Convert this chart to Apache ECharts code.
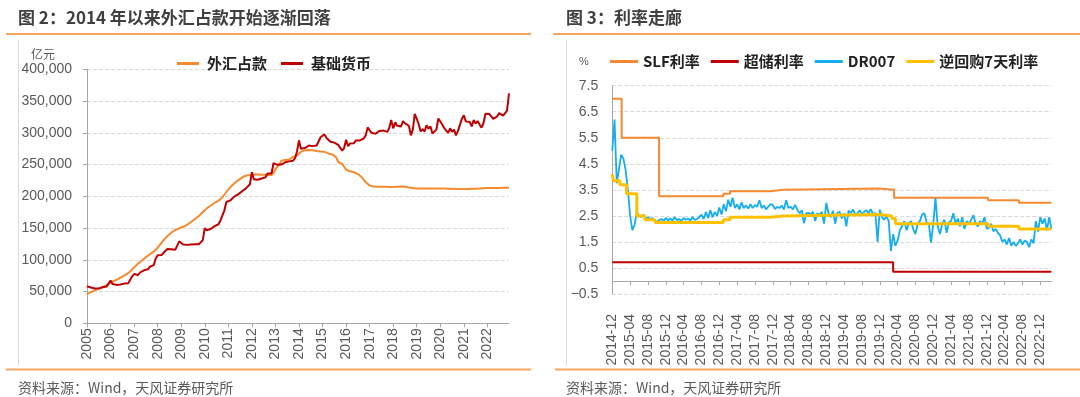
<!DOCTYPE html>
<html>
<head>
<meta charset="utf-8">
<script src="https://cdn.jsdelivr.net/npm/echarts@6/dist/echarts.min.js"></script>
<style>
html, body { margin: 0; padding: 0; background: #fff; }
#chart { width: 1080px; height: 397px; }
</style>
</head>
<body>
<div id="chart"></div>
<script>
// ---------- 图2：月度，亿元 ----------
var years = [2005, 2006, 2007, 2008, 2009, 2010, 2011, 2012, 2013, 2014, 2015, 2016, 2017, 2018, 2019, 2020, 2021, 2022];

var fxReserve = [ // 外汇占款
  46000, 47500, 49000, 50500, 51800, 53000, 54300, 55600, 57000, 58500, 60200, 62100,
  64000, 65500, 67000, 68500, 70000, 71800, 73500, 75200, 77000, 79000, 81500, 84400,
  88000, 91000, 94000, 96500, 99000, 101500, 104000, 106500, 108500, 110500, 112800, 115200,
  119000, 123000, 126500, 131000, 134000, 137500, 140500, 143000, 145500, 147000, 148500, 149600,
  151000, 152000, 153000, 155000, 157500, 159500, 161500, 164000, 166500, 169000, 172000, 175200,
  178000, 181000, 183000, 185500, 187000, 189500, 191000, 193000, 195500, 198500, 202500, 206800,
  211000, 214000, 217500, 220500, 223000, 225500, 227500, 229500, 231500, 232700, 233000, 232400,
  233500, 234500, 234800, 234500, 234000, 234000, 233800, 233600, 233400, 233700, 233500, 236700,
  243000, 246000, 250000, 256000, 257500, 257000, 257000, 258000, 259000, 262000, 265000, 264300,
  267000, 270000, 271500, 272500, 273000, 272800, 272600, 272400, 272000, 271500, 271400, 270700,
  270300, 270000, 268500, 267500, 266800, 266000, 264000, 261000, 254000, 253000, 251000, 248500,
  242000, 240000, 239500, 239000, 238000, 237000, 235000, 233000, 230000, 227000, 222000, 219400,
  217000, 216000, 215500, 215300, 215000, 215000, 215000, 215100, 215200, 215000, 214800, 214800,
  214800, 215000, 215200, 215300, 215300, 215300, 215000, 214800, 214000, 213600, 213000, 212600,
  212400, 212300, 212200, 212200, 212300, 212300, 212300, 212400, 212300, 212200, 212300, 212300,
  212300, 212200, 212200, 212000, 211900, 211800, 211700, 211600, 211500, 211500, 211300, 211300,
  211300, 211400, 211600, 211700, 211800, 211900, 212000, 212200, 212400, 212600, 212800, 212900,
  212900, 212900, 213000, 213000, 213100, 213100, 213200, 213200, 213300, 213300, 213400, 213500
];

var baseMoney = [ // 基础货币
  58300, 57800, 56500, 55000, 54800, 55500, 55000, 55600, 56800, 56500, 57800, 58500,
  67500, 62000, 61500, 60500, 60000, 61000, 61500, 62500, 63500, 63000, 66000, 74000,
  77500, 74500, 76000, 80000, 79500, 83500, 82500, 85000, 89000, 88000, 91500, 102000,
  107000, 104000, 107500, 111000, 112500, 117000, 115500, 116500, 118500, 116000, 118000, 129000,
  127000, 124000, 124500, 123500, 122500, 124000, 123000, 124500, 126500, 124500, 127000, 131000,
  150000, 146500, 145000, 148500, 147000, 153000, 152500, 156000, 162000, 170000, 178000, 191000,
  192500, 193500, 195000, 199500, 199000, 203000, 204500, 208000, 211000, 212500, 215000, 219000,
  238000, 227000, 225000, 226000, 224000, 228000, 226500, 230000, 236000, 233000, 236000, 252000,
  251000, 249500, 248500, 250000, 249000, 253500, 252000, 255000, 258000, 256000, 260000, 271000,
  288000, 275000, 272500, 276000, 274500, 280000, 277000, 279000, 282000, 280000, 283000, 293000,
  292000, 297500, 292000, 289000, 286000, 288000, 284500, 282000, 281000, 278000, 272000, 276000,
  289000, 279000, 283000, 284500, 283500, 288000, 286000, 288000, 290000, 291000, 296000, 308500,
  304000, 300000, 299000, 298500, 301000, 303000, 300500, 303500, 304000, 301500, 308000, 320000,
  307000, 316500, 311000, 313500, 310000, 318500, 315000, 317000, 311000, 296000, 305000, 330000,
  322000, 313500, 302000, 306000, 302000, 312000, 306500, 310000, 299000, 301500, 305000, 322500,
  321000, 313000, 307500, 305000, 300000, 307000, 301500, 305000, 296000, 303000, 301500, 322000,
  327500, 318000, 321000, 317000, 310000, 320000, 314500, 318500, 313000, 308000, 315000, 330000,
  327000, 329500, 330000, 322000, 324500, 326000, 331000, 333000, 327000, 325000, 335000, 362000
];

// ---------- 图3：利率，% ----------
var rateTicks = ['2014-12', '2015-04', '2015-08', '2015-12', '2016-04', '2016-08', '2016-12',
  '2017-04', '2017-08', '2017-12', '2018-04', '2018-08', '2018-12', '2019-04', '2019-08', '2019-12',
  '2020-04', '2020-08', '2020-12', '2021-04', '2021-08', '2021-12', '2022-04', '2022-08', '2022-12'];
var rateEnd = '2023-02-16';

var slfDates = ['2014-12-01', '2015-02-04', '2015-10-16', '2016-12-28', '2017-02-13', '2017-11-13',
  '2018-02-13', '2019-12-01', '2020-03-07', '2021-12-10', '2022-07-07'];
var slfRates = [7.0, 5.5, 3.25, 3.35, 3.45, 3.5, 3.55, 3.5, 3.2, 3.1, 3.0];

var excessDates = ['2014-12-01', '2020-03-01'];
var excessRates = [0.72, 0.35];

var rrDates = ['2014-12-01', '2014-12-08', '2015-01-22', '2015-03-07', '2015-05-16', '2015-07-10',
  '2015-09-19', '2016-12-28', '2017-02-13', '2017-11-13', '2018-02-13', '2019-12-01', '2020-02-22',
  '2020-03-16', '2021-12-10', '2022-07-07'];
var rrRates = [4.1, 3.85, 3.7, 3.35, 2.5, 2.35, 2.25, 2.35, 2.45, 2.5, 2.55, 2.5, 2.4, 2.2, 2.1, 2.0];

// DR007，每月1日、16日取样，自2014-12起
var dr007 = [
  5.0, 6.2,
  3.75, 4.3, 4.85, 4.7, 4.25, 3.5, 2.5, 1.95, 2.15, 2.65, 2.5, 2.45, 2.55, 2.4, 2.45, 2.38, 2.42, 2.3, 2.28, 2.33, 2.38, 2.3, 2.42, 2.33,
  2.4, 2.32, 2.45, 2.33, 2.38, 2.3, 2.42, 2.35, 2.4, 2.32, 2.46, 2.34, 2.38, 2.45, 2.55, 2.38, 2.65, 2.42, 2.72, 2.45, 2.65, 2.5, 2.82, 2.55,
  2.95, 2.68, 3.12, 2.85, 3.2, 2.8, 2.95, 2.75, 3.02, 2.8, 2.9, 2.78, 2.95, 2.8, 2.92, 2.85, 3.1, 2.8, 2.9, 2.75, 2.85, 2.95, 2.92, 2.76,
  2.85, 2.8, 2.9, 2.75, 3.1, 2.8, 2.85, 2.75, 2.92, 2.74, 2.6, 2.72, 2.22, 2.6, 2.62, 2.55, 2.66, 2.3, 2.6, 2.55, 2.65, 2.2, 3.0, 2.6,
  2.45, 2.7, 2.2, 2.62, 2.66, 2.4, 2.6, 2.1, 2.7, 2.6, 2.75, 2.55, 2.6, 2.72, 2.55, 2.66, 2.72, 2.6, 2.76, 2.55, 2.62, 1.5, 2.74, 2.45,
  2.35, 2.5, 2.3, 1.15, 1.8, 1.35, 1.55, 1.95, 2.1, 2.3, 1.95, 2.2, 2.3, 2.0, 1.8, 2.2, 2.3, 2.55, 2.6, 2.25, 2.2, 1.47, 2.2, 3.18,
  2.1, 1.8, 2.2, 2.35, 1.85, 2.25, 2.3, 2.6, 2.2, 2.4, 2.1, 2.45, 2.0, 2.3, 2.2, 2.35, 2.53, 2.2, 2.1, 2.3, 2.2, 2.45, 2.0, 2.05,
  2.2, 1.9, 2.0, 1.85, 1.75, 1.5, 1.6, 1.4, 1.65, 1.35, 1.5, 1.35, 1.45, 1.6, 1.4, 1.55, 1.5, 1.3, 1.6, 1.45, 2.3, 1.9, 2.45, 2.2,
  2.4, 1.95, 2.45, 2.0
];

// 日期 -> 自2014-12起的月数
function toM(s) {
  var p = s.split('-');
  var d = p[2] ? +p[2] : 1;
  return (+p[0] - 2014) * 12 + (+p[1] - 12) + (d - 1) / 30;
}
function stepData(dates, vals) {
  var out = dates.map(function (d, i) { return [toM(d), vals[i]]; });
  out.push([toM(rateEnd), vals[vals.length - 1]]);
  return out;
}

var months = [];
years.forEach(function (y) {
  for (var m = 1; m <= 12; m++) months.push(y + '-' + (m < 10 ? '0' : '') + m);
});
var tickM = rateTicks.map(toM);

var cjk = '"Noto Sans CJK SC", sans-serif';
var latin = '"Liberation Sans", Arial, sans-serif';
var grey = '#595959';
var lineOrange = '#F5A561';

var myChart = echarts.init(document.getElementById('chart'));
var option = {
  animation: false,
  backgroundColor: '#fff',
  graphic: [
    { type: 'text', style: { text: '图 2：2014 年以来外汇占款开始逐渐回落', x: 18, y: 18, font: 'bold 17px ' + cjk, fill: '#404040', verticalAlign: 'middle' } },
    { type: 'line', shape: { x1: 6, y1: 34, x2: 531, y2: 34 }, style: { stroke: lineOrange, lineWidth: 2 } },
    { type: 'line', shape: { x1: 18.5, y1: 40, x2: 18.5, y2: 365 }, style: { stroke: '#d9d9d9', lineWidth: 1 } },
    { type: 'text', style: { text: '亿元', x: 31, y: 54, font: '12px ' + cjk, fill: grey, verticalAlign: 'middle' } },
    { type: 'line', shape: { x1: 6, y1: 369.5, x2: 531, y2: 369.5 }, style: { stroke: lineOrange, lineWidth: 2 } },
    { type: 'text', style: { text: '资料来源：Wind，天风证券研究所', x: 18, y: 388, font: '14px ' + cjk, fill: grey, verticalAlign: 'middle' } },

    { type: 'text', style: { text: '图 3：利率走廊', x: 566, y: 18, font: 'bold 17px ' + cjk, fill: '#404040', verticalAlign: 'middle' } },
    { type: 'line', shape: { x1: 553, y1: 34, x2: 1080, y2: 34 }, style: { stroke: lineOrange, lineWidth: 2 } },
    { type: 'line', shape: { x1: 566.5, y1: 40, x2: 566.5, y2: 365 }, style: { stroke: '#d9d9d9', lineWidth: 1 } },
    { type: 'text', style: { text: '%', x: 579, y: 62, font: '11px ' + latin, fill: grey, verticalAlign: 'middle' } },
    { type: 'line', shape: { x1: 555, y1: 369.5, x2: 1080, y2: 369.5 }, style: { stroke: lineOrange, lineWidth: 2 } },
    { type: 'text', style: { text: '资料来源：Wind，天风证券研究所', x: 566, y: 388, font: '14px ' + cjk, fill: grey, verticalAlign: 'middle' } }
  ],
  legend: [
    {
      data: ['外汇占款', '基础货币'],
      left: 172, top: 51,
      icon: 'rect', itemWidth: 22, itemHeight: 3, itemGap: 14,
      textStyle: { fontFamily: cjk, fontSize: 15, fontWeight: 'bold', color: '#222', padding: [0, 0, 0, 3] }
    },
    {
      data: ['SLF利率', '超储利率', 'DR007', '逆回购7天利率'],
      left: 605, top: 49,
      icon: 'rect', itemWidth: 28, itemHeight: 3, itemGap: 11,
      textStyle: { fontFamily: cjk, fontSize: 15, fontWeight: 'bold', color: '#222' }
    }
  ],
  grid: [
    { left: 87, right: 571, top: 69.3, bottom: 73.7, containLabel: false, outerBoundsMode: 'none' },
    { left: 612.3, right: 28.6, top: 85.7, bottom: 103, containLabel: false, outerBoundsMode: 'none' }
  ],
  xAxis: [
    {
      gridIndex: 0, type: 'category', data: months, boundaryGap: false,
      axisLine: { lineStyle: { color: '#a6a6a6' } },
      axisTick: { interval: 11, length: 4, lineStyle: { color: '#a6a6a6' } },
      axisLabel: {
        interval: 11, rotate: 90, margin: 5, fontSize: 14, fontFamily: latin, color: grey,
        formatter: function (v) { return v.slice(0, 4); }
      },
      splitLine: { show: false }
    },
    {
      gridIndex: 1, type: 'value', min: 0, max: toM(rateEnd),
      axisLine: { onZero: true, lineStyle: { color: '#a6a6a6' } },
      axisTick: { show: true, customValues: tickM, length: 4, lineStyle: { color: '#a6a6a6' } },
      axisLabel: {
        customValues: tickM, rotate: 90, margin: 20, fontSize: 14, fontFamily: latin, color: grey,
        formatter: function (v) {
          var i = tickM.indexOf(v);
          return i >= 0 ? rateTicks[i] : '';
        }
      },
      splitLine: { show: false }
    }
  ],
  yAxis: [
    {
      gridIndex: 0, type: 'value', min: 0, max: 400000, interval: 50000,
      axisLine: { show: true, lineStyle: { color: '#a6a6a6' } },
      axisTick: { show: true, length: 4, lineStyle: { color: '#a6a6a6' } },
      axisLabel: {
        margin: 15, fontSize: 14, fontFamily: latin, color: grey,
        formatter: function (v) { return v.toLocaleString('en-US'); }
      },
      splitLine: { lineStyle: { type: 'dashed', color: '#d9d9d9' } }
    },
    {
      gridIndex: 1, type: 'value', min: -0.5, max: 7.5, interval: 1,
      axisLine: { show: true, lineStyle: { color: '#a6a6a6' } },
      axisTick: { show: false },
      axisLabel: {
        margin: 14, fontSize: 14, fontFamily: latin, color: grey,
        formatter: function (v) { return v < 0 ? '\u2212' + Math.abs(v).toFixed(1) : v.toFixed(1); }
      },
      splitLine: { lineStyle: { type: 'dashed', color: '#d9d9d9' } }
    }
  ],
  series: [
    {
      name: '外汇占款', type: 'line', xAxisIndex: 0, yAxisIndex: 0, data: fxReserve,
      symbol: 'none', color: '#F58A2E', lineStyle: { width: 2 }
    },
    {
      name: '基础货币', type: 'line', xAxisIndex: 0, yAxisIndex: 0, data: baseMoney,
      symbol: 'none', color: '#C00000', lineStyle: { width: 2 }
    },
    {
      name: 'SLF利率', type: 'line', xAxisIndex: 1, yAxisIndex: 1, step: 'end',
      data: stepData(slfDates, slfRates), symbol: 'none', color: '#F58A33', lineStyle: { width: 2 }
    },
    {
      name: '超储利率', type: 'line', xAxisIndex: 1, yAxisIndex: 1, step: 'end',
      data: stepData(excessDates, excessRates), symbol: 'none', color: '#C00000', lineStyle: { width: 2 }
    },
    {
      name: 'DR007', type: 'line', xAxisIndex: 1, yAxisIndex: 1,
      data: dr007.map(function (v, i) { return [i / 2, v]; }),
      symbol: 'none', color: '#12AEEF', lineStyle: { width: 1.8 }
    },
    {
      name: '逆回购7天利率', type: 'line', xAxisIndex: 1, yAxisIndex: 1, step: 'end',
      data: stepData(rrDates, rrRates), symbol: 'none', color: '#FFC000', lineStyle: { width: 3 }
    }
  ]
};
myChart.setOption(option);
</script>
</body>
</html>
